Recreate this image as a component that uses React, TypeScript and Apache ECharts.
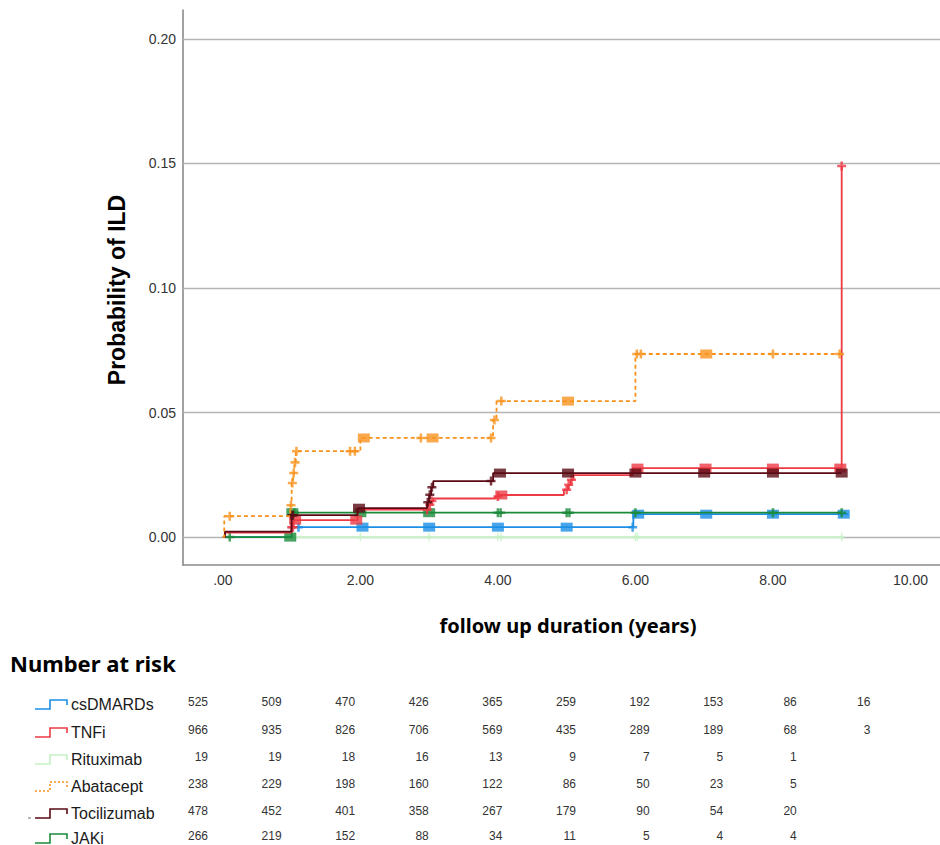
import React, { useEffect, useRef } from "react";
import * as echarts from "echarts";

// ---------- data ----------
const groupNames = ["csDMARDs", "TNFi", "Rituximab", "Abatacept", "Tocilizumab", "JAKi"];
const groupColors = ["#1b8ee6", "#ee3a44", "#c4f2c4", "#f7931e", "#5a0a14", "#1c8a3b"];

// cumulative probability of ILD (step function: value holds from time[i] until time[i+1])
const csdmardsTime = [0, 1.0, 5.97, 9.1];
const csdmardsProb = [0, 0.004, 0.0092, 0.0092];

const tnfiTime = [0, 0.03, 1.0, 1.03, 1.96, 2.98, 3.02, 3.06, 3.96, 4.02, 4.96, 5.02, 5.06, 5.1, 5.96, 9.0];
const tnfiProb = [0, 0.0018, 0.004, 0.0068, 0.011, 0.013, 0.0145, 0.0155, 0.0163, 0.0169, 0.019, 0.021, 0.023, 0.0249, 0.0277, 0.149];

const rituximabTime = [0, 9.0];
const rituximabProb = [0, 0];

const abataceptTime = [0, 0.02, 0.98, 1.0, 1.02, 1.04, 1.06, 2.0, 3.93, 3.98, 6.0, 9.0];
const abataceptProb = [0, 0.0084, 0.0128, 0.0217, 0.0257, 0.03, 0.0345, 0.0398, 0.047, 0.0546, 0.0735, 0.0735];

const tocilizumabTime = [0, 0.03, 1.0, 1.96, 2.97, 3.0, 3.03, 3.06, 3.93, 9.0];
const tocilizumabProb = [0, 0.0022, 0.0088, 0.0116, 0.014, 0.017, 0.02, 0.0225, 0.0257, 0.0257];

const jakiTime = [0, 1.0, 9.0];
const jakiProb = [0, 0.0098, 0.0098];

// censored observations (single "+") and dense clusters of censoring (drawn as blocks)
const csdmardsCensor = [1.1, 5.96];
const csdmardsCluster = [2.03, 3.0, 4.0, 5.0, 6.04, 7.03, 8.0, 9.03];
const tnfiCensor = [1.0, 1.02, 2.97, 3.01, 3.04, 4.0, 5.0, 5.03, 5.07, 9.0];
const tnfiCluster = [1.05, 1.94, 4.05, 6.03, 7.02, 8.0, 8.98];
const rituximabCensor = [1.0, 1.05, 2.0, 3.0, 4.0, 4.05, 6.0, 6.03, 9.0];
const rituximabCluster: number[] = [];
const abataceptCensor = [0.1, 0.99, 1.01, 1.03, 1.05, 1.07, 1.85, 1.92, 2.88, 3.9, 3.95, 4.05, 6.02, 6.08, 8.0, 8.97];
const abataceptCluster = [2.05, 3.05, 5.02, 7.03];
const tocilizumabCensor = [1.0, 1.02, 2.98, 3.01, 3.04, 3.9];
const tocilizumabCluster = [1.98, 4.03, 5.02, 6.0, 7.0, 8.0, 9.0];
const jakiCensor = [0.1, 1.04, 4.0, 4.04, 5.0, 5.04, 6.0, 8.0, 9.0];
const jakiCluster = [0.98, 1.01, 2.0, 3.0];

// number at risk (years 0..9)
const riskYears = [0, 1, 2, 3, 4, 5, 6, 7, 8, 9];
const csdmardsRisk = [525, 509, 470, 426, 365, 259, 192, 153, 86, 16];
const tnfiRisk = [966, 935, 826, 706, 569, 435, 289, 189, 68, 3];
const rituximabRisk = [19, 19, 18, 16, 13, 9, 7, 5, 1];
const abataceptRisk = [238, 229, 198, 160, 122, 86, 50, 23, 5];
const tocilizumabRisk = [478, 452, 401, 358, 267, 179, 90, 54, 20];
const jakiRisk = [266, 219, 152, 88, 34, 11, 5, 4, 4];

const xTickValues = [0, 2, 4, 6, 8, 10];
const yTickValues = [0, 0.05, 0.1, 0.15, 0.2];

// ---------- helpers ----------
const groups = [
  { time: csdmardsTime, prob: csdmardsProb, censor: csdmardsCensor, cluster: csdmardsCluster, risk: csdmardsRisk },
  { time: tnfiTime, prob: tnfiProb, censor: tnfiCensor, cluster: tnfiCluster, risk: tnfiRisk },
  { time: rituximabTime, prob: rituximabProb, censor: rituximabCensor, cluster: rituximabCluster, risk: rituximabRisk },
  { time: abataceptTime, prob: abataceptProb, censor: abataceptCensor, cluster: abataceptCluster, risk: abataceptRisk },
  { time: tocilizumabTime, prob: tocilizumabProb, censor: tocilizumabCensor, cluster: tocilizumabCluster, risk: tocilizumabRisk },
  { time: jakiTime, prob: jakiProb, censor: jakiCensor, cluster: jakiCluster, risk: jakiRisk },
];

function valueAt(time: number[], prob: number[], t: number) {
  let v = prob[0];
  for (let i = 0; i < time.length; i++) if (time[i] <= t + 1e-9) v = prob[i];
  return v;
}

const PLUS = "path://M3.6,0h2.8v3.6h3.6v2.8h-3.6v3.6h-2.8v-3.6h-3.6v-2.8h3.6z";
const zOrder = [11, 13, 10, 15, 14, 12];

export default function App() {
  const ref = useRef<HTMLDivElement>(null);
  useEffect(() => {
    document.body.style.margin = "0";
    const chart = echarts.init(ref.current!, null, { renderer: "svg" });

    const series: any[] = [];
    // gridlines
    series.push({
      type: "line",
      data: [],
      silent: true,
      z: 1,
      markLine: {
        silent: true,
        symbol: "none",
        label: { show: false },
        lineStyle: { color: "#b4b4b4", width: 1.4, type: "solid" },
        data: yTickValues.map((v) => ({ yAxis: v })),
        z: 1,
      },
    });
    groups.forEach((g, gi) => {
      const color = groupColors[gi];
      series.push({
        type: "line",
        name: groupNames[gi],
        data: g.time.map((t, i) => [t, g.prob[i]]),
        step: "end",
        symbol: "none",
        z: zOrder[gi],
        lineStyle: { color, width: gi === 2 ? 1.6 : 1.8, type: gi === 3 ? [4, 3] : "solid" },
      });
      series.push({
        type: "scatter",
        data: g.censor.map((t) => [t, valueAt(g.time, g.prob, t)]),
        symbol: PLUS,
        symbolSize: gi === 2 ? [5, 9] : 9,
        z: zOrder[gi],
        itemStyle: { color },
      });
      if (g.cluster.length)
        series.push({
          type: "scatter",
          data: g.cluster.map((t) => [t, valueAt(g.time, g.prob, t)]),
          symbol: "rect",
          symbolSize: [12, 9],
          z: zOrder[gi],
          itemStyle: { color },
        });
    });

    // risk table graphics
    const graphic: any[] = [];
    const rowY = [702, 730, 757, 784, 811, 836];
    graphic.push({
      type: "text",
      x: 10,
      y: 663,
      style: {
        text: "Number at risk",
        fill: "#000",
        font: "bold 22px 'Noto Sans'",
        textAlign: "left",
        textVerticalAlign: "middle",
        align: "left",
        verticalAlign: "middle",
      },
    });
    graphic.push({
      type: "text",
      x: 568,
      y: 625,
      style: {
        text: "follow up duration (years)",
        fill: "#000",
        font: "bold 20px 'Noto Sans'",
        textAlign: "center",
        textVerticalAlign: "middle",
        align: "center",
        verticalAlign: "middle",
      },
    });
    graphic.push({
      type: "text",
      x: 117,
      y: 290,
      rotation: Math.PI / 2,
      style: {
        text: "Probability of ILD",
        fill: "#000",
        font: "bold 23px 'Liberation Sans'",
        textAlign: "center",
        textVerticalAlign: "middle",
        align: "center",
        verticalAlign: "middle",
      },
    });
    groups.forEach((g, gi) => {
      const c = rowY[gi];
      const color = groupColors[gi];
      graphic.push({
        type: "polyline",
        shape: { points: [[35, c + 7], [50, c + 7], [50, c - 2], [67, c - 2], [67, c + 3]] },
        style: { stroke: color, lineWidth: 1.6, fill: null, lineDash: gi === 3 ? [2, 2] : null },
      });
      if (gi === 4)
        graphic.push({
          type: "line",
          shape: { x1: 28, y1: c + 7, x2: 31, y2: c + 7 },
          style: { stroke: "#888", lineWidth: 1.2 },
        });
      graphic.push({
        type: "text",
        x: 71,
        y: c + 2,
        style: {
          text: groupNames[gi],
          fill: "#1a1a1a",
          font: "16px 'Liberation Sans'",
          textAlign: "left",
          textVerticalAlign: "middle",
          align: "left",
          verticalAlign: "middle",
        },
      });
      g.risk.forEach((n, j) => {
        graphic.push({
          type: "text",
          x: 208 + riskYears[j] * 73.6,
          y: c,
          style: {
            text: String(n),
            fill: "#333",
            font: "12px 'Liberation Sans'",
            textAlign: "right",
            textVerticalAlign: "middle",
            align: "right",
            verticalAlign: "middle",
          },
        });
      });
    });

    chart.setOption({
      animation: false,
      backgroundColor: "#fff",
      grid: { left: 183, top: 10, right: 0, bottom: 280, containLabel: false },
      xAxis: {
        type: "value",
        min: -0.58,
        max: 10.43,
        axisLine: { show: true, onZero: false, lineStyle: { color: "#8a8a8a", width: 1.6 } },
        axisTick: { show: false },
        splitLine: { show: false },
        axisLabel: {
          customValues: xTickValues,
          formatter: (v: number) => (v === 0 ? ".00" : v.toFixed(2)),
          color: "#333",
          fontSize: 14,
          fontFamily: "Liberation Sans",
          margin: 8,
        },
      },
      yAxis: {
        type: "value",
        min: -0.0112,
        max: 0.2116,
        axisLine: { show: true, onZero: false, lineStyle: { color: "#8a8a8a", width: 1.6 } },
        axisTick: { show: false },
        splitLine: { show: false },
        axisLabel: {
          customValues: yTickValues,
          formatter: (v: number) => v.toFixed(2),
          color: "#333",
          fontSize: 14,
          fontFamily: "Liberation Sans",
          margin: 7,
        },
      },
      series,
      graphic,
    });
    return () => chart.dispose();
  }, []);
  return <div ref={ref} style={{ width: 940, height: 845 }} />;
}
